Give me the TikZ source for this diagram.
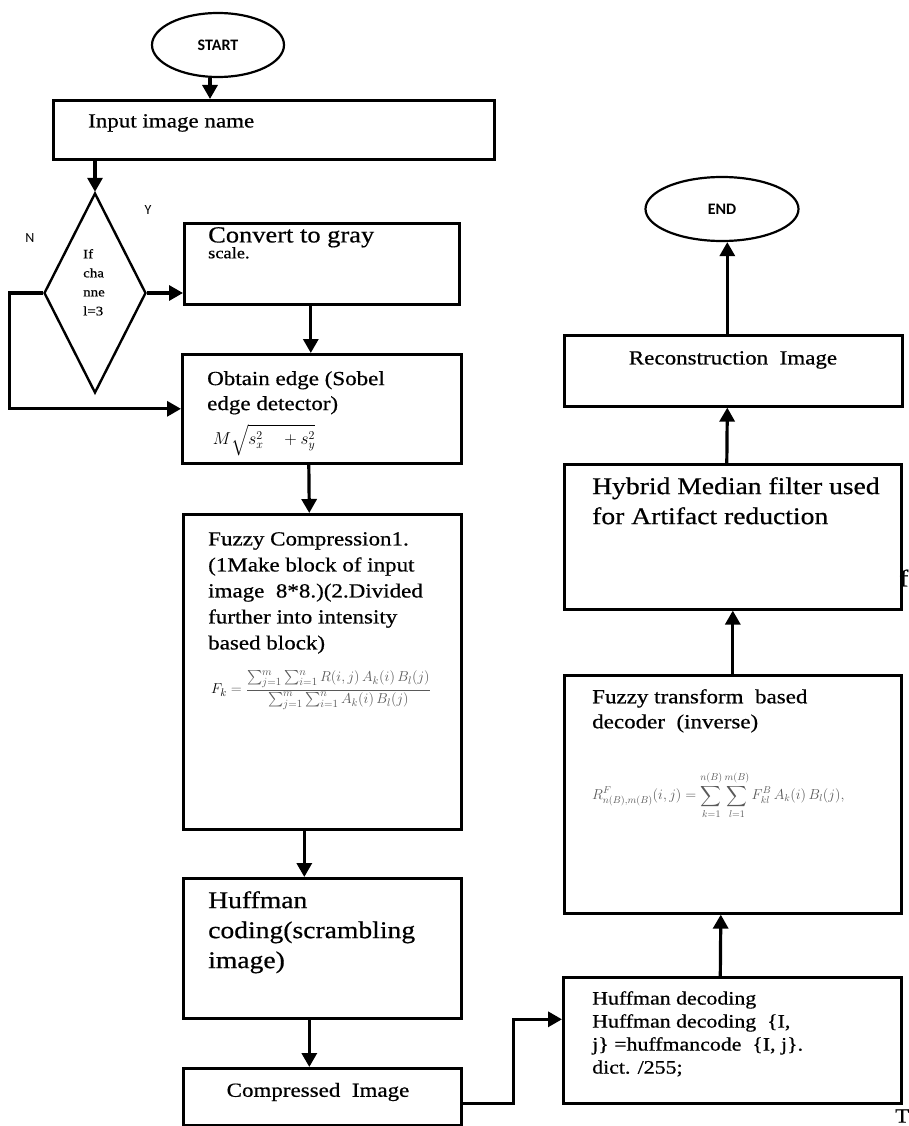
\documentclass[tikz,border=0pt]{standalone}
\usepackage{amsmath}
\usepackage{fontspec}
\setmainfont{Liberation Serif}[FakeStretch=1.15,FakeBold=0.6]
\newfontfamily\termfont{Carlito}
\usetikzlibrary{positioning,shapes.geometric,arrows.meta}
\tikzset{
    procbox/.style={draw,line width=2.6pt,inner sep=0pt},
    termbox/.style={draw,ellipse,line width=2.2pt,inner sep=0pt,font=\termfont\bfseries\fontsize{16}{18}\selectfont},
    decbox/.style={draw,diamond,line width=2.4pt,inner sep=0pt,minimum width=102pt,minimum height=200pt},
    boxtxt/.style={inner sep=0pt,align=left},
    mathtxt/.style={inner sep=0pt,text=black!65},
    arr/.style={line width=3.2pt,-{Triangle[length=14pt,width=15pt]}}
}
\newcommand{\myBox}[5]{
    \node[procbox,minimum width=#3pt,minimum height=#4pt,anchor=north west] (#5) at (#1,#2) {};
}
\newcommand{\myText}[6]{
    \node[boxtxt,font=\fontsize{#3}{#4}\selectfont,anchor=north west] (#5) at (#1,#2) {#6};
}

\begin{document}
\begin{tikzpicture}[x=1pt,y=-1pt]
    \useasboundingbox (0,0) rectangle (909,1126);

    \node[termbox,minimum width=132pt,minimum height=64pt] (start) at (218,45) {START};
    \node[termbox,minimum width=153pt,minimum height=64pt] (end) at (722,209) {END};
    \node[decbox] (dec) at (95,293) {};

    \myBox{52}{99}{441}{59}{input}
    \myBox{183}{222}{275}{81}{gray}
    \myBox{181}{353}{279}{109}{sobel}
    \myBox{182}{513}{278}{315}{fuzzy}
    \myBox{182}{877}{278}{140}{huff}
    \myBox{182}{1067}{278}{57}{comp}
    \myBox{562}{976}{338}{126}{huffdec}
    \myBox{563}{674}{337}{238}{fdec}
    \myBox{563}{463}{337}{145}{hybrid}
    \myBox{563}{334}{338}{71}{recon}

    \myText{88}{114}{20}{24}{inputtxt}{Input image name}
    \myText{208}{227}{23}{26}{graytxt}{Convert to gray}
    \myText{208}{247}{16}{18}{scaletxt}{scale.}
    \myText{207}{371}{20}{25}{sobeltxt}{Obtain edge (Sobel\\edge detector)}
    \myText{208}{532}{20}{26}{fuzzytxt}{Fuzzy Compression1.\\(1Make block of input\\image\ \ 8*8.)(2.Divided\\further into intensity\\based block)}
    \myText{208}{891}{24}{30}{hufftxt}{Huffman\\coding(scrambling\\image)}
    \myText{592}{991}{19}{23}{huffdectxt}{Huffman decoding\\Huffman decoding\ \ \{I,\\j\} =huffmancode\ \ \{I, j\}.\\dict. /255;}
    \myText{592}{689}{20}{25}{fdectxt}{Fuzzy transform\ \ based\\decoder\ \ (inverse)}
    \myText{592}{477}{24}{30}{hybridtxt}{Hybrid Median filter used\\for Artifact reduction}
    \myText{83}{249}{13}{19}{dectxt}{If\\cha\\nne\\l=3}

    \node[boxtxt,font=\fontsize{20}{24}\selectfont] (comptxt) at (318,1092) {Compressed\ \ Image};
    \node[boxtxt,font=\fontsize{20}{24}\selectfont] (recontxt) at (733,360) {Reconstruction\ \ Image};
    \node[boxtxt,font=\termfont\fontsize{14}{16}\selectfont] (ylbl) at (148,210) {Y};
    \node[boxtxt,font=\termfont\fontsize{14}{16}\selectfont] (nlbl) at (30,238) {N};
    \node[boxtxt,font=\fontsize{24}{28}\selectfont,anchor=west] (ftxt) at (899,578) {f};
    \node[boxtxt,font=\fontsize{20}{24}\selectfont,anchor=west] (ttxt) at (895,1116) {T};

    \node[mathtxt,text=black,font=\fontsize{17}{20}\selectfont] (sobelf) at (264,440) {$M\sqrt{s_x^{2}\quad+s_y^{2}}$};
    \node[mathtxt,font=\fontsize{15}{18}\selectfont,anchor=west] (fuzzyf) at (211,690) {$\textcolor{black}{F_{k}}=\dfrac{\sum_{j=1}^{m}\sum_{i=1}^{n}R(i,j)\,A_k(i)\,B_l(j)}{\sum_{j=1}^{m}\sum_{i=1}^{n}A_k(i)\,B_l(j)}$};
    \node[mathtxt,font=\fontsize{14}{17}\selectfont,anchor=west] (fdecf) at (592,795) {$\displaystyle R^{F}_{n(B),m(B)}(i,j)=\sum_{k=1}^{n(B)}\sum_{l=1}^{m(B)}F^{B}_{kl}\,A_k(i)\,B_l(j),$};

    \draw[arr] ([xshift=-8pt]start.south) -- ([xshift=-8pt]start.south |- input.north);
    \draw[arr] (dec.north |- input.south) -- (dec.north);
    \draw[arr] (dec.east) -- (dec.east -| gray.west);
    \draw[arr] (dec.west) -- ++(-33,0) |- (sobel.west);
    \draw[arr] ([xshift=-11pt]gray.south) -- ([xshift=-11pt]sobel.north);
    \draw[arr] ([xshift=-13pt]sobel.south) -- ([xshift=-13pt]fuzzy.north);
    \draw[arr] ([xshift=-18pt]fuzzy.south) -- ([xshift=-18pt]huff.north);
    \draw[arr] ([xshift=-13pt]huff.south) -- ([xshift=-13pt]comp.north);
    \draw[arr] ([yshift=-7pt]comp.east) -- ++(51,0) |- ([yshift=21pt]huffdec.west);
    \draw[arr] ([xshift=-12pt]huffdec.north) -- ([xshift=-12pt]fdec.south);
    \draw[arr] (fdec.north) -- (fdec.north |- hybrid.south);
    \draw[arr] ([xshift=-6pt]hybrid.north) -- ([xshift=-6pt]recon.south);
    \draw[arr] ([xshift=-6pt]recon.north) -- ([xshift=-6pt]recon.north |- end.south);
\end{tikzpicture}
\end{document}
